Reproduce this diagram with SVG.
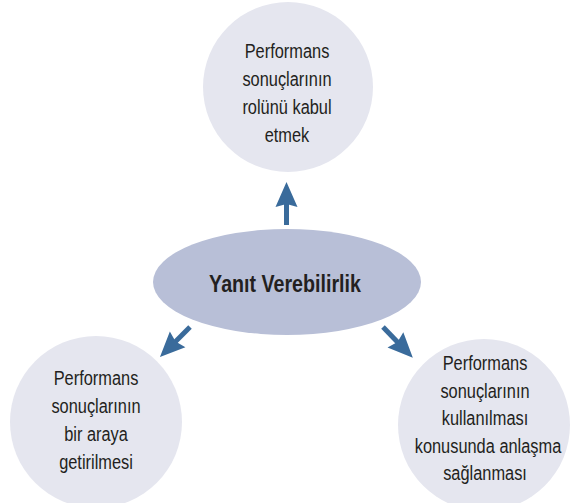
<svg xmlns="http://www.w3.org/2000/svg" width="570" height="503" viewBox="0 0 570 503">
<style>
.circle{fill:#e5e6ef}
.core{fill:#b8bfd7}
.t{font-family:"Liberation Sans",Arial,sans-serif;font-size:21px;fill:#231f20;text-anchor:middle}
.tb{font-family:"Liberation Sans",Arial,sans-serif;font-size:23px;font-weight:bold;fill:#231f20;text-anchor:middle}
.arrow{stroke:#3a6b9b;stroke-width:5;fill:none}
</style>
<defs>
<marker id="head" viewBox="-6 -12 27 24" refX="0" refY="0" markerWidth="27" markerHeight="24" markerUnits="userSpaceOnUse" orient="auto">
<path d="M20,0 L-5,-11 L-2,0 L-5,11 Z" fill="#3a6b9b"/>
</marker>
</defs>
<g id="node-top">
<circle class="circle" cx="288" cy="87" r="85"/>
<text class="t" transform="translate(287,58) scale(0.78,1)">Performans</text>
<text class="t" transform="translate(287,86) scale(0.78,1)">sonuçlarının</text>
<text class="t" transform="translate(287,114) scale(0.78,1)">rolünü kabul</text>
<text class="t" transform="translate(287,142) scale(0.78,1)">etmek</text>
</g>
<g id="node-left">
<circle class="circle" cx="96" cy="422" r="86"/>
<text class="t" transform="translate(96,385) scale(0.78,1)">Performans</text>
<text class="t" transform="translate(96,413) scale(0.78,1)">sonuçlarının</text>
<text class="t" transform="translate(96,441) scale(0.78,1)">bir araya</text>
<text class="t" transform="translate(96,469) scale(0.78,1)">getirilmesi</text>
</g>
<g id="node-right">
<circle class="circle" cx="484" cy="425" r="86"/>
<text class="t" transform="translate(485,370) scale(0.78,1)">Performans</text>
<text class="t" transform="translate(485,398) scale(0.78,1)">sonuçlarının</text>
<text class="t" transform="translate(485,425) scale(0.78,1)">kullanılması</text>
<text class="t" transform="translate(488,453) scale(0.78,1)">konusunda anlaşma</text>
<text class="t" transform="translate(485,480) scale(0.78,1)">sağlanması</text>
</g>
<g id="node-center">
<ellipse class="core" cx="287" cy="282" rx="134" ry="53"/>
<text class="tb" transform="translate(285,292) scale(0.855,1)">Yanıt Verebilirlik</text>
</g>
<g id="connectors">
<line class="arrow" x1="286.5" y1="225" x2="286.5" y2="202" marker-end="url(#head)"/>
<line class="arrow" x1="190" y1="327" x2="174.1" y2="342.9" marker-end="url(#head)"/>
<line class="arrow" x1="383" y1="327" x2="398.9" y2="343.4" marker-end="url(#head)"/>
</g>
</svg>
